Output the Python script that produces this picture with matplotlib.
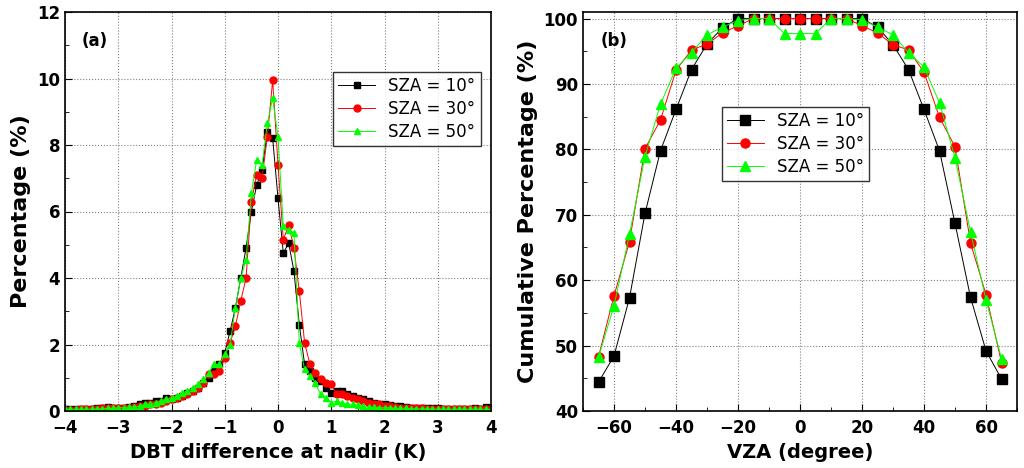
import numpy as np
import matplotlib
matplotlib.use("Agg")
import matplotlib.pyplot as plt
from matplotlib.ticker import MultipleLocator

# panel (a): DBT difference histogram, x = -4..4 step 0.1
dbt_x = np.round(np.arange(-4.0, 4.01, 0.1), 1)
pct_10 = [0.05, 0.05, 0.05, 0.05, 0.06, 0.06, 0.08, 0.1, 0.12, 0.1,
          0.1, 0.08, 0.12, 0.15, 0.2, 0.25, 0.25, 0.3, 0.3, 0.4,
          0.35, 0.4, 0.45, 0.55, 0.6, 0.7, 0.85, 1.0, 1.2, 1.4,
          1.75, 2.4, 3.1, 4.0, 4.9, 6.0, 6.8, 7.25, 8.4, 8.2,
          6.4, 4.75, 5.05, 4.2, 2.6, 1.4, 1.2, 1.0, 0.9, 0.7,
          0.55, 0.6, 0.6, 0.5, 0.45, 0.4, 0.35, 0.3, 0.25, 0.2,
          0.2, 0.18, 0.15, 0.15, 0.12, 0.1, 0.1, 0.1, 0.08, 0.08,
          0.08, 0.07, 0.07, 0.06, 0.06, 0.06, 0.05, 0.1, 0.05, 0.12, 0.05]
pct_30 = [0.04, 0.04, 0.04, 0.05, 0.05, 0.05, 0.06, 0.08, 0.08, 0.1,
          0.08, 0.1, 0.1, 0.12, 0.15, 0.15, 0.2, 0.2, 0.25, 0.3,
          0.35, 0.4, 0.45, 0.5, 0.6, 0.7, 0.85, 1.1, 1.1, 1.2,
          1.6, 2.05, 2.55, 3.3, 4.0, 6.3, 7.1, 7.0, 8.25, 9.95,
          7.4, 5.15, 5.6, 4.9, 3.6, 2.05, 1.4, 1.15, 0.95, 0.85,
          0.8, 0.5, 0.5, 0.45, 0.4, 0.35, 0.3, 0.25, 0.2, 0.2,
          0.15, 0.15, 0.12, 0.1, 0.1, 0.1, 0.08, 0.08, 0.07, 0.07,
          0.06, 0.06, 0.05, 0.05, 0.05, 0.05, 0.05, 0.05, 0.05, 0.05, 0.05]
pct_50 = [0.05, 0.05, 0.05, 0.05, 0.05, 0.06, 0.06, 0.07, 0.08, 0.08,
          0.1, 0.1, 0.12, 0.12, 0.15, 0.2, 0.2, 0.25, 0.3, 0.35,
          0.4, 0.45, 0.55, 0.6, 0.7, 0.8, 0.95, 1.15, 1.4, 1.4,
          1.7, 2.0, 3.1, 4.0, 4.55, 6.55, 7.55, 7.4, 8.65, 9.4,
          8.25, 5.55, 5.45, 5.35, 2.05, 1.25, 1.05, 0.85, 0.5, 0.4,
          0.25, 0.3, 0.25, 0.2, 0.2, 0.18, 0.15, 0.12, 0.12, 0.1,
          0.1, 0.1, 0.08, 0.08, 0.08, 0.07, 0.07, 0.06, 0.06, 0.06,
          0.05, 0.05, 0.05, 0.05, 0.05, 0.05, 0.05, 0.05, 0.05, 0.05, 0.05]

# panel (b): cumulative percentage vs VZA (-65..65 step 5)
vza = list(range(-65, 66, 5))
cum_10 = [44.4, 48.4, 57.3, 70.2, 79.8, 86.1, 92.2, 96.1, 98.6, 100, 100, 100, 100, 100,
          100, 100, 100, 100, 98.7, 96.0, 92.2, 86.1, 79.8, 68.7, 57.4, 49.2, 44.9]
cum_30 = [48.3, 57.6, 65.9, 80.1, 84.5, 92.1, 95.2, 96.1, 97.8, 98.9, 100, 100, 100, 100,
          100, 100, 100, 98.9, 97.8, 96.0, 95.2, 91.8, 84.9, 80.4, 65.7, 57.8, 47.4]
cum_50 = [48.2, 56.1, 67.0, 78.9, 86.9, 92.4, 94.8, 97.5, 98.7, 99.7, 100, 100, 97.7, 97.7,
          97.7, 100, 100, 99.8, 98.7, 97.5, 94.8, 92.6, 87.1, 78.7, 67.4, 57.0, 48.0]

labels = ["SZA = 10°", "SZA = 30°", "SZA = 50°"]
styles = [dict(color="black", marker="s"), dict(color="red", marker="o"),
          dict(color="#00ff00", marker="^")]

fig = plt.figure(figsize=(10.24, 4.68), dpi=100)
ax1 = fig.add_axes([65 / 1024, 57 / 468, 426 / 1024, 399 / 468])
ax2 = fig.add_axes([583 / 1024, 57 / 468, 434 / 1024, 399 / 468])

for ys, lab, st in zip([pct_10, pct_30, pct_50], labels, styles):
    ax1.plot(dbt_x, ys, lw=0.7, ms=5, label=lab, **st)
for ys, lab, st in zip([cum_10, cum_30, cum_50], labels, styles):
    ax2.plot(vza, ys, lw=0.7, ms=6.5, label=lab, **st)

ax1.set_xlim(-4, 4)
ax1.set_ylim(0, 12)
ax1.xaxis.set_major_locator(MultipleLocator(1))
ax1.xaxis.set_minor_locator(MultipleLocator(0.5))
ax1.yaxis.set_major_locator(MultipleLocator(2))
ax1.yaxis.set_minor_locator(MultipleLocator(1))
ax1.set_xlabel("DBT difference at nadir (K)", fontsize=14, fontweight="bold")
ax1.set_ylabel("Percentage (%)", fontsize=16, fontweight="bold")
ax1.text(0.04, 0.95, "(a)", transform=ax1.transAxes, fontsize=12, fontweight="bold", va="top")
ax1.legend(loc="upper right", bbox_to_anchor=(0.995, 0.87), fontsize=12, frameon=True,
           fancybox=False, edgecolor="black", handlelength=2.2, borderpad=0.3, labelspacing=0.3)

ax2.set_xlim(-70, 70)
ax2.set_ylim(40, 101)
ax2.xaxis.set_major_locator(MultipleLocator(20))
ax2.xaxis.set_minor_locator(MultipleLocator(10))
ax2.yaxis.set_major_locator(MultipleLocator(10))
ax2.yaxis.set_minor_locator(MultipleLocator(5))
ax2.set_xlabel("VZA (degree)", fontsize=14, fontweight="bold")
ax2.set_ylabel("Cumulative Percentage (%)", fontsize=16, fontweight="bold")
ax2.text(0.04, 0.95, "(b)", transform=ax2.transAxes, fontsize=12, fontweight="bold", va="top")
ax2.legend(loc="center", bbox_to_anchor=(0.49, 0.67), fontsize=12, frameon=True,
           fancybox=False, edgecolor="black", handlelength=2.2, borderpad=0.3, labelspacing=0.3)

for ax in (ax1, ax2):
    ax.grid(True, which="major", linestyle=":", color="gray", lw=0.8)
    ax.tick_params(which="both", direction="in", top=False, right=False, labelsize=12)
    ax.tick_params(which="major", length=5)
    ax.tick_params(which="minor", length=3)
    ax.tick_params(axis="x", pad=6)
    for lab in ax.get_xticklabels() + ax.get_yticklabels():
        lab.set_fontweight("bold")
    for sp in ax.spines.values():
        sp.set_linewidth(1.2)

fig.savefig("out.png", dpi=100)
